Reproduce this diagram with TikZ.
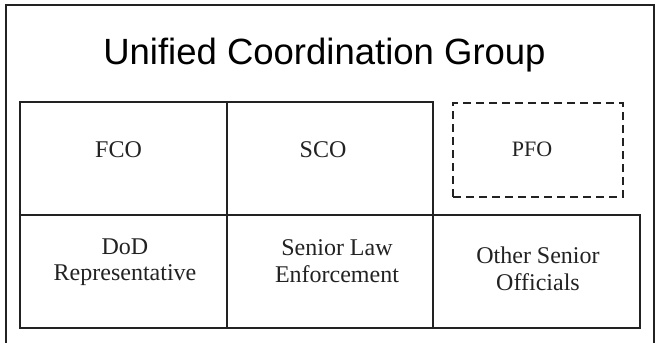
\documentclass[tikz,border=0pt]{standalone}
\usepackage{fontspec}
\setmainfont{Liberation Serif}
\newfontfamily\titlefont{Liberation Sans}
\definecolor{ink}{HTML}{222222}
\begin{document}
\begin{tikzpicture}[x=1pt,y=-1pt,
  frame/.style={draw=ink,line width=2pt},
  cell/.style={draw=ink,line width=1.4pt,inner sep=0pt},
  dcell/.style={draw=ink,line width=1.4pt,inner sep=0pt,dash pattern=on 8pt off 5pt},
  celltext/.style={anchor=base,inner sep=0pt,align=center,text=ink,font=\fontsize{24}{26}\selectfont},
  pfotext/.style={anchor=base,inner sep=0pt,text=ink,font=\fontsize{22}{24}\selectfont},
  titletext/.style={anchor=base,inner sep=0pt,text=black,font=\titlefont\fontsize{36.5}{40}\selectfont}]
\useasboundingbox (0,0) rectangle (657,343);
% outer frame (bottom edge falls outside the picture)
\node[frame,inner sep=0pt,minimum width=648pt,minimum height=360pt] (outer) at (330,185) {};
\node[titletext] (title) at (324.5,64) {Unified Coordination Group};
% top row
\node[cell,minimum width=207pt,minimum height=113pt] (fco) at (123.5,158.5) {};
\node[cell,minimum width=206pt,minimum height=113pt] (sco) at (330,158.5) {};
\node[dcell,minimum width=170pt,minimum height=94pt] (pfo) at (538,150) {};
% bottom row
\node[cell,minimum width=207pt,minimum height=113pt] (dod) at (123.5,271.5) {};
\node[cell,minimum width=206pt,minimum height=113pt] (law) at (330,271.5) {};
\node[cell,minimum width=207pt,minimum height=113pt] (other) at (536.5,271.5) {};
% texts (base anchor = baseline of the last line)
\node[celltext] (fcot) at (118.5,157) {FCO};
\node[celltext] (scot) at (323,157) {SCO};
\node[pfotext] (pfot) at (532,156) {PFO};
\node[celltext] (dodt) at (125,280) {DoD\\Representative};
\node[celltext,font=\fontsize{24}{27}\selectfont] (lawt) at (337,282) {Senior Law\\Enforcement};
\node[celltext,font=\fontsize{24}{27}\selectfont] (othert) at (538,290) {Other Senior\\Officials};
\end{tikzpicture}
\end{document}
